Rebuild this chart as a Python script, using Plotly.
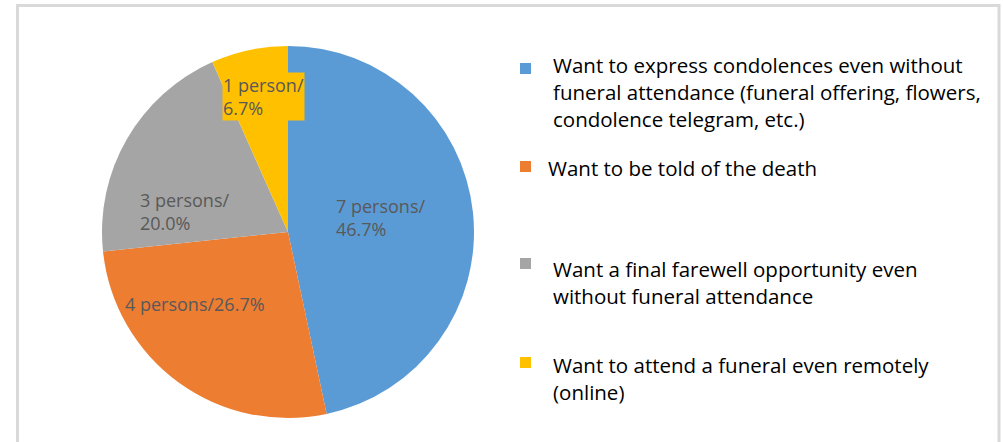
import plotly.graph_objects as go

# Survey responses (number of persons per answer)
categories = [
    "Want to express condolences even without funeral attendance (funeral offering, flowers, condolence telegram, etc.)",
    "Want to be told of the death",
    "Want a final farewell opportunity even without funeral attendance",
    "Want to attend a funeral even remotely (online)",
]
legend_lines = [
    ["Want to express condolences even without", "funeral attendance (funeral offering, flowers,", "condolence telegram, etc.)"],
    ["Want to be told of the death"],
    ["Want a final farewell opportunity even", "without funeral attendance"],
    ["Want to attend a funeral even remotely", "(online)"],
]
counts = [7, 4, 3, 1]
colors = ["#5B9BD5", "#ED7D31", "#A5A5A5", "#FFC000"]

W, H = 1003, 442
FONT = "Open Sans"
total = sum(counts)


def px(x):
    return x / W


def py(y):
    return 1 - y / H


fig = go.Figure()
fig.add_trace(go.Pie(
    labels=categories,
    values=counts,
    sort=False,
    direction="clockwise",
    rotation=0,
    marker=dict(colors=colors, line=dict(width=0)),
    textinfo="none",
    hoverinfo="label+value+percent",
    showlegend=False,
    domain=dict(x=[px(102), px(474)], y=[py(418), py(46)]),
))


def unit(n):
    return "person" if n == 1 else "persons"


def pct(n):
    return f"{100 * n / total:.1f}%"


# data label placement: (x, y of first baseline, split into two lines?, background)
label_pos = [
    (335, 210, True, None),
    (124, 308, False, None),
    (139, 204, True, None),
    (222, 89, True, "#FFC000"),
]

annotations = []
for n, (x, yb, split, bg) in zip(counts, label_pos):
    if split:
        txt = f"{n} {unit(n)}/<br>{pct(n)}"
    else:
        txt = f"{n} {unit(n)}/{pct(n)}"
    annotations.append(dict(
        x=px(x), y=py(yb - 17), xref="paper", yref="paper",
        xanchor="left", yanchor="top", align="left",
        text=txt, showarrow=False,
        font=dict(family=FONT, size=18, color="#595959"),
        bgcolor=bg, borderpad=0,
    ))

# legend entries: (marker top y, text x, first line baseline)
legend_pos = [
    (63, 551, 75),
    (161, 546, 178),
    (258, 551, 279),
    (357, 551, 375),
]
shapes = []
for lines, col, (my, tx, yb) in zip(legend_lines, colors, legend_pos):
    shapes.append(dict(
        type="rect", xref="paper", yref="paper",
        x0=px(520), x1=px(531), y0=py(my + 11), y1=py(my),
        fillcolor=col, line=dict(width=0),
    ))
    for i, line in enumerate(lines):
        annotations.append(dict(
            x=px(tx), y=py(yb + 27 * i), xref="paper", yref="paper",
            xanchor="left", yanchor="bottom", align="left",
            text=line, showarrow=False, yshift=-6,
            font=dict(family=FONT, size=20.5, color="#000000"),
        ))

# chart area frame
shapes.append(dict(
    type="rect", xref="paper", yref="paper",
    x0=px(17.5), x1=px(999), y0=py(460), y1=py(5.5),
    line=dict(color="#D9D9D9", width=3), fillcolor="rgba(0,0,0,0)",
))

fig.update_layout(
    width=W, height=H,
    margin=dict(l=0, r=0, t=0, b=0),
    paper_bgcolor="white", plot_bgcolor="white",
    annotations=annotations, shapes=shapes,
)
fig.write_html("out.html")
